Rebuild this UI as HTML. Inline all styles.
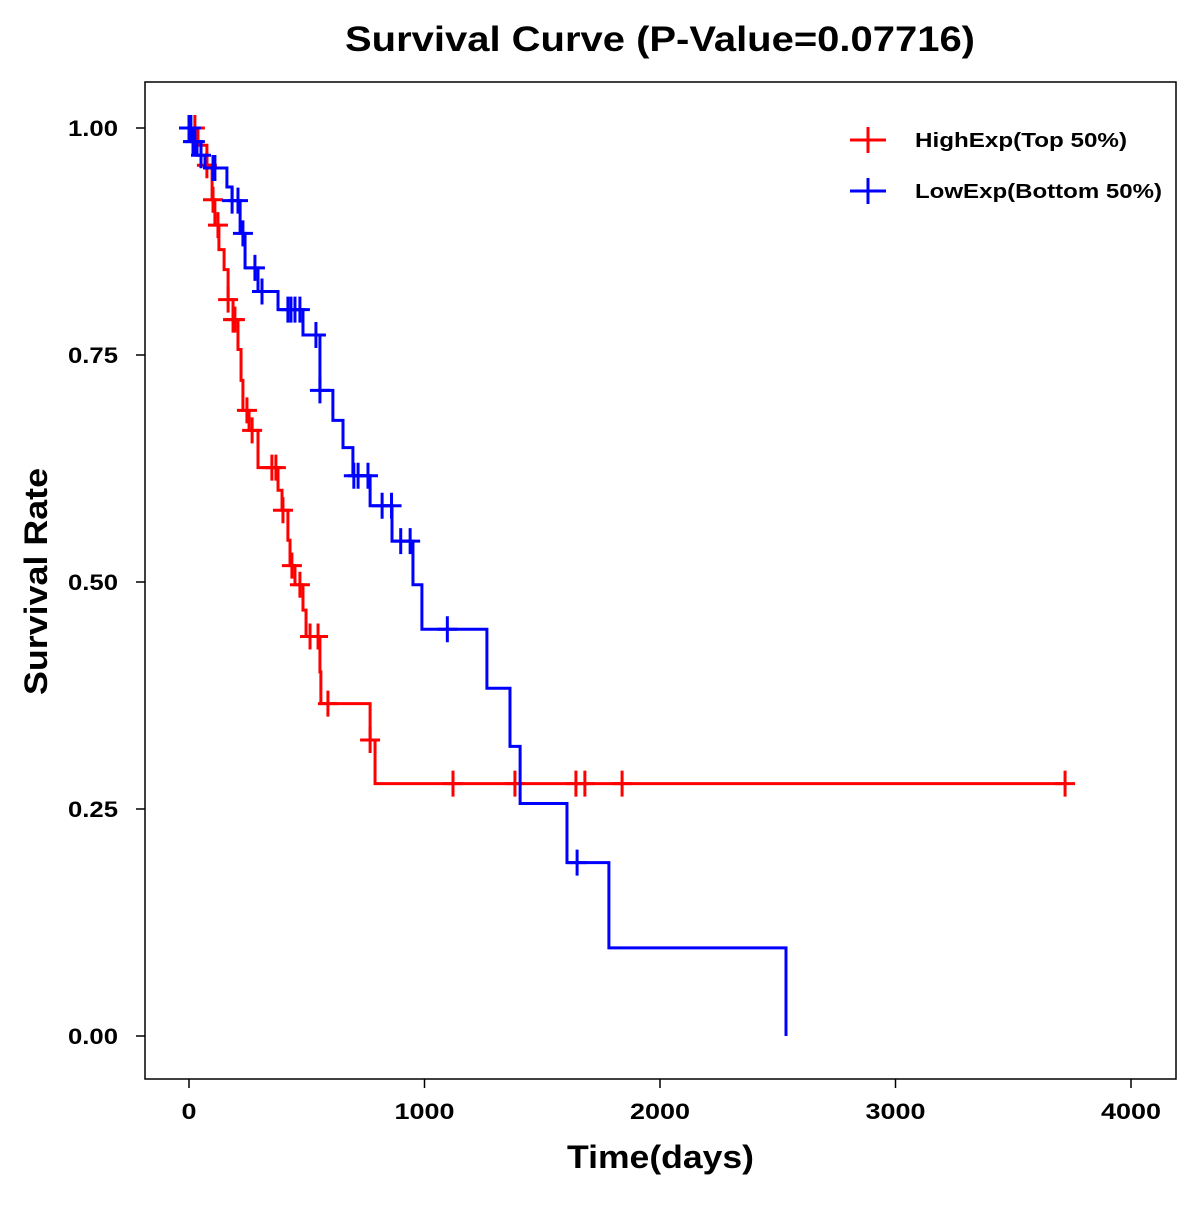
<!DOCTYPE html>
<html><head><meta charset="utf-8"><style>
body{margin:0;background:#fff}
svg text{font-family:"Liberation Sans",Arial,sans-serif;font-weight:bold}
</style></head><body>
<svg id="chart" width="1200" height="1200" xmlns="http://www.w3.org/2000/svg">
<text x="345" y="51" font-size="35" textLength="630" lengthAdjust="spacingAndGlyphs">Survival Curve (P-Value=0.07716)</text>
<rect x="145" y="82" width="1031" height="997" fill="none" stroke="#000" stroke-width="1.5"/>
<text x="567" y="1168" font-size="32" textLength="187" lengthAdjust="spacingAndGlyphs">Time(days)</text>
<text transform="translate(47,695) rotate(-90)" font-size="32" textLength="227" lengthAdjust="spacingAndGlyphs">Survival Rate</text>
<g id="axes"></g><g id="curves"></g>
<g>
<line x1="850" y1="140" x2="886" y2="140" stroke="#f00" stroke-width="3"/><line x1="868" y1="127" x2="868" y2="153" stroke="#f00" stroke-width="3"/>
<text x="915" y="147" font-size="20" textLength="212" lengthAdjust="spacingAndGlyphs">HighExp(Top 50%)</text>
<line x1="850" y1="191" x2="886" y2="191" stroke="#00f" stroke-width="3"/><line x1="868" y1="178" x2="868" y2="204" stroke="#00f" stroke-width="3"/>
<text x="915" y="198" font-size="20" textLength="247" lengthAdjust="spacingAndGlyphs">LowExp(Bottom 50%)</text>
</g>
</svg>
<script>
const xTicks=[0,1000,2000,3000,4000];
const yTicks=[0,0.25,0.5,0.75,1];
const yTickLabels=["0.00","0.25","0.50","0.75","1.00"];
const highTimes=[38,76,98,110,127,149,166,187,208,221,229,255,293,378,395,420,429,450,484,497,556,560,769,790];
const highSurv=[.981,.959,.921,.893,.866,.844,.811,.789,.756,.722,.689,.667,.626,.601,.579,.546,.518,.497,.469,.440,.401,.366,.326,.278];
const highCensor=[25,76,102,123,166,187,195,246,268,352,369,399,437,471,514,548,590,769,1121,1384,1643,1681,1839,3720];
const lowTimes=[13,34,68,161,183,217,238,293,378,484,556,611,654,696,769,862,951,989,1265,1363,1406,1605,1783,2535];
const lowSurv=[.985,.970,.956,.935,.920,.884,.846,.820,.800,.772,.711,.678,.648,.617,.584,.545,.497,.448,.383,.319,.256,.191,.097,0];
const lowCensor=[0,8,17,25,51,102,110,183,208,229,280,310,420,433,450,471,539,556,700,718,760,820,860,899,939,1097,1648];
const X=t=>189+t*(942/4000), Y=s=>1036-s*908;
const NS="http://www.w3.org/2000/svg";
function mk(tag,attrs,parent){const e=document.createElementNS(NS,tag);for(const k in attrs)e.setAttribute(k,attrs[k]);parent.appendChild(e);return e;}
const axes=document.getElementById('axes');
xTicks.forEach(t=>{
 const l=mk('line',{x1:X(t),x2:X(t),y1:1079,y2:1088,stroke:'#000','stroke-width':1.5},axes);
 
 
 const s=String(t);
 const tx=mk('text',{x:X(t),y:1119,'font-size':22,'text-anchor':'middle',textLength:s.length*15,lengthAdjust:'spacingAndGlyphs'},axes);tx.textContent=s;
 
 
});
yTicks.forEach((s,i)=>{
 const l=mk('line',{x1:136,x2:145,y1:Y(s),y2:Y(s),stroke:'#000','stroke-width':1.5},axes);
 
 
 const tx=mk('text',{x:118,y:Y(s)+8,'font-size':22,'text-anchor':'end',textLength:50,lengthAdjust:'spacingAndGlyphs'},axes);tx.textContent=yTickLabels[i];
 
 
});
const curves=document.getElementById('curves');
function survAt(times,surv,t){let s=1;for(let i=0;i<times.length;i++){if(times[i]<=t)s=surv[i];}return s;}
function draw(times,surv,cens,color,name){
 let end=Math.max(times[times.length-1],cens[cens.length-1]);
 let d=`M${X(0)},${Y(1)}`;let s=1;
 times.forEach((t,i)=>{d+=` H${X(t)} V${Y(surv[i])}`;s=surv[i];});
 if(end>times[times.length-1]&&s>0)d+=` H${X(end)}`;
 const p=mk('path',{d:d,fill:'none',stroke:color,'stroke-width':3},curves);
 
 
 cens.forEach(t=>{
  const cy=Y(survAt(times,surv,t)),cx=X(t);
  const g=mk('path',{d:`M${cx-10},${cy} H${cx+10} M${cx},${cy-13} V${cy+13}`,stroke:color,'stroke-width':3,fill:'none'},curves);
  
  
 });
}
draw(highTimes,highSurv,highCensor,'#f00','high-exp');
draw(lowTimes,lowSurv,lowCensor,'#00f','low-exp');
</script>
</body></html>
